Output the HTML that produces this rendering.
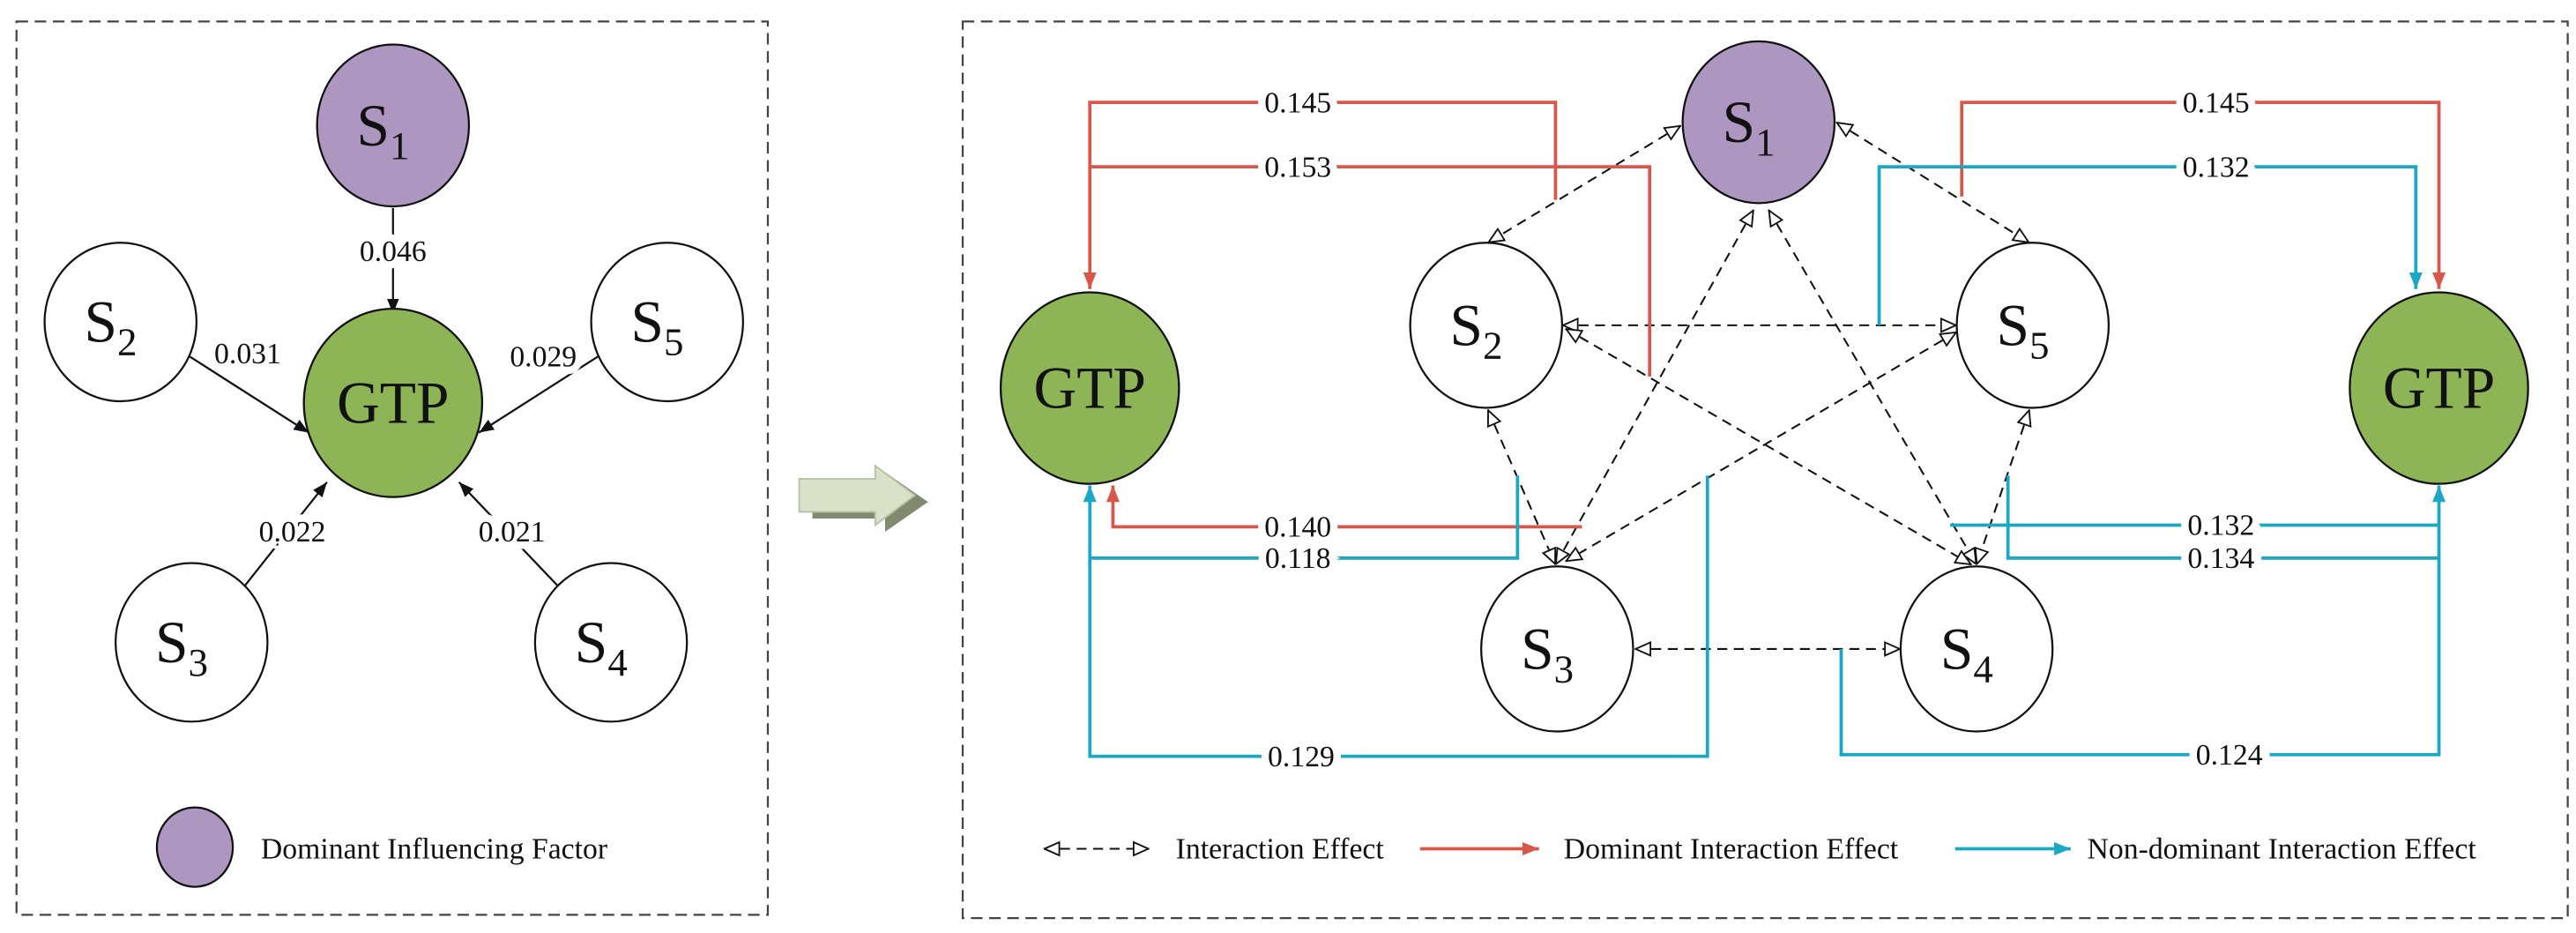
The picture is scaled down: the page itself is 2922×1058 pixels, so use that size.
<!DOCTYPE html>
<html><head><meta charset="utf-8"><style>
html,body{margin:0;padding:0;background:#fff;}
svg{display:block;}
text{font-family:"Liberation Serif",serif;fill:#111;}
.lbl{font-size:18px;text-anchor:middle;paint-order:stroke;stroke:#fff;stroke-width:9px;}
.node{font-size:36px;text-anchor:middle;}
.sub{font-size:24px;}
</style></head><body>
<svg width="2922" height="1058" viewBox="0 0 1560 565" preserveAspectRatio="none" xmlns="http://www.w3.org/2000/svg">
<defs>
<marker id="ab" viewBox="0 0 10 10" refX="10" refY="5" markerWidth="9" markerHeight="9" markerUnits="userSpaceOnUse" orient="auto"><path d="M0,1 L10,5 L0,9 z" fill="#111"/></marker>
<marker id="ar" viewBox="0 0 10 10" refX="10" refY="5" markerWidth="10" markerHeight="10" markerUnits="userSpaceOnUse" orient="auto"><path d="M0,1 L10,5 L0,9 z" fill="#d9574a"/></marker>
<marker id="ac" viewBox="0 0 10 10" refX="10" refY="5" markerWidth="10" markerHeight="10" markerUnits="userSpaceOnUse" orient="auto"><path d="M0,1 L10,5 L0,9 z" fill="#1aa8c4"/></marker>
<marker id="ao" viewBox="0 0 10 10" refX="10" refY="5" markerWidth="10" markerHeight="10" markerUnits="userSpaceOnUse" orient="auto-start-reverse"><path d="M0.5,1 L9.5,5 L0.5,9 z" fill="#fff" stroke="#111" stroke-width="1"/></marker>
</defs>

<rect x="10" y="13" width="455" height="541" fill="none" stroke="#444" stroke-width="1.2" stroke-dasharray="7,4"/>
<rect x="583" y="13" width="972" height="543" fill="none" stroke="#444" stroke-width="1.2" stroke-dasharray="7,4"/>

<g stroke="#111" stroke-width="1.2" fill="none" marker-end="url(#ab)">
<line x1="238" y1="126" x2="238" y2="190"/>
<line x1="115" y1="216" x2="187" y2="262"/>
<line x1="362" y1="216" x2="290" y2="262"/>
<line x1="148" y1="355" x2="198" y2="292"/>
<line x1="338" y1="355" x2="278" y2="292"/>
</g>
<text class="lbl" x="238" y="158">0.046</text>
<text class="lbl" x="150" y="220">0.031</text>
<text class="lbl" x="329" y="222">0.029</text>
<text class="lbl" x="177" y="328">0.022</text>
<text class="lbl" x="310" y="328">0.021</text>

<ellipse cx="238" cy="76" rx="46" ry="49" fill="#ad97c1" stroke="#111" stroke-width="1.2"/>
<ellipse cx="238" cy="244" rx="54" ry="57" fill="#8db556" stroke="#111" stroke-width="1.2"/>
<ellipse cx="73" cy="195" rx="46" ry="48" fill="#fff" stroke="#111" stroke-width="1.2"/>
<ellipse cx="404" cy="195" rx="46" ry="48" fill="#fff" stroke="#111" stroke-width="1.2"/>
<ellipse cx="116" cy="389" rx="46" ry="48" fill="#fff" stroke="#111" stroke-width="1.2"/>
<ellipse cx="370" cy="389" rx="46" ry="48" fill="#fff" stroke="#111" stroke-width="1.2"/>
<text class="node" x="232" y="88">S<tspan class="sub" dy="8">1</tspan></text>
<text class="node" x="238" y="256">GTP</text>
<text class="node" x="67" y="207">S<tspan class="sub" dy="8">2</tspan></text>
<text class="node" x="398" y="207">S<tspan class="sub" dy="8">5</tspan></text>
<text class="node" x="110" y="401">S<tspan class="sub" dy="8">3</tspan></text>
<text class="node" x="364" y="401">S<tspan class="sub" dy="8">4</tspan></text>
<ellipse cx="118" cy="513" rx="23" ry="24" fill="#ad97c1" stroke="#111" stroke-width="1.2"/>
<text x="158" y="520" style="font-size:18px">Dominant Influencing Factor</text>

<polygon points="492,294 536,294 536,286 562,304 536,322 536,314 492,314" fill="#7f8a6e"/>
<polygon points="484,290 530,290 530,282 554,300 530,318 530,310 484,310" fill="#d9e2c8" stroke="#b7c1a6" stroke-width="1"/>

<g stroke="#111" stroke-width="1.1" fill="none" stroke-dasharray="6,4" marker-start="url(#ao)" marker-end="url(#ao)">
<line x1="1018" y1="76" x2="901" y2="147"/>
<line x1="1112" y1="74" x2="1229" y2="147"/>
<line x1="1062" y1="127" x2="942" y2="342"/>
<line x1="1071" y1="127" x2="1197" y2="342"/>
<line x1="946" y1="197" x2="1185" y2="197"/>
<line x1="948" y1="199" x2="1194" y2="342"/>
<line x1="1185" y1="201" x2="948" y2="340"/>
<line x1="901" y1="248" x2="942" y2="342"/>
<line x1="1229" y1="248" x2="1197" y2="342"/>
<line x1="990" y1="393" x2="1151" y2="393"/>
</g>

<g stroke="#d9574a" stroke-width="2" fill="none">
<polyline points="942,121 942,62 660,62 660,175" marker-end="url(#ar)"/>
<polyline points="999,228 999,101 660,101"/>
<polyline points="958,319 674,319 674,294" marker-end="url(#ar)"/>
<polyline points="1188,119 1188,62 1477,62 1477,175" marker-end="url(#ar)"/>
</g>
<g stroke="#1aa8c4" stroke-width="2" fill="none">
<polyline points="919,288 919,338 660,338"/>
<polyline points="1034,288 1034,458 660,458 660,294" marker-end="url(#ac)"/>
<polyline points="1138,197 1138,101 1463,101 1463,175" marker-end="url(#ac)"/>
<polyline points="1181,318 1477,318"/>
<polyline points="1216,288 1216,338 1477,338"/>
<polyline points="1115,393 1115,457 1477,457 1477,294" marker-end="url(#ac)"/>
</g>
<text class="lbl" x="786" y="68">0.145</text>
<text class="lbl" x="786" y="107">0.153</text>
<text class="lbl" x="786" y="325">0.140</text>
<text class="lbl" x="786" y="344">0.118</text>
<text class="lbl" x="788" y="464">0.129</text>
<text class="lbl" x="1342" y="68">0.145</text>
<text class="lbl" x="1342" y="107">0.132</text>
<text class="lbl" x="1345" y="324">0.132</text>
<text class="lbl" x="1345" y="344">0.134</text>
<text class="lbl" x="1350" y="463">0.124</text>

<ellipse cx="1065" cy="74" rx="46" ry="49" fill="#ad97c1" stroke="#111" stroke-width="1.2"/>
<ellipse cx="900" cy="197" rx="46" ry="50" fill="#fff" stroke="#111" stroke-width="1.2"/>
<ellipse cx="1231" cy="197" rx="46" ry="50" fill="#fff" stroke="#111" stroke-width="1.2"/>
<ellipse cx="943" cy="393" rx="46" ry="50" fill="#fff" stroke="#111" stroke-width="1.2"/>
<ellipse cx="1197" cy="393" rx="46" ry="50" fill="#fff" stroke="#111" stroke-width="1.2"/>
<ellipse cx="660" cy="235" rx="54" ry="58" fill="#8db556" stroke="#111" stroke-width="1.2"/>
<ellipse cx="1477" cy="235" rx="54" ry="58" fill="#8db556" stroke="#111" stroke-width="1.2"/>
<text class="node" x="1059" y="86">S<tspan class="sub" dy="8">1</tspan></text>
<text class="node" x="894" y="209">S<tspan class="sub" dy="8">2</tspan></text>
<text class="node" x="1225" y="209">S<tspan class="sub" dy="8">5</tspan></text>
<text class="node" x="937" y="405">S<tspan class="sub" dy="8">3</tspan></text>
<text class="node" x="1191" y="405">S<tspan class="sub" dy="8">4</tspan></text>
<text class="node" x="660" y="247">GTP</text>
<text class="node" x="1477" y="247">GTP</text>

<line x1="632" y1="514" x2="696" y2="514" stroke="#111" stroke-width="1.1" stroke-dasharray="6,4" marker-start="url(#ao)" marker-end="url(#ao)"/>
<text x="712" y="520" style="font-size:18px">Interaction Effect</text>
<line x1="860" y1="514" x2="932" y2="514" stroke="#d9574a" stroke-width="2" marker-end="url(#ar)"/>
<text x="947" y="520" style="font-size:18px">Dominant Interaction Effect</text>
<line x1="1184" y1="514" x2="1254" y2="514" stroke="#1aa8c4" stroke-width="2" marker-end="url(#ac)"/>
<text x="1264" y="520" style="font-size:18px">Non-dominant Interaction Effect</text>
</svg>
</body></html>
